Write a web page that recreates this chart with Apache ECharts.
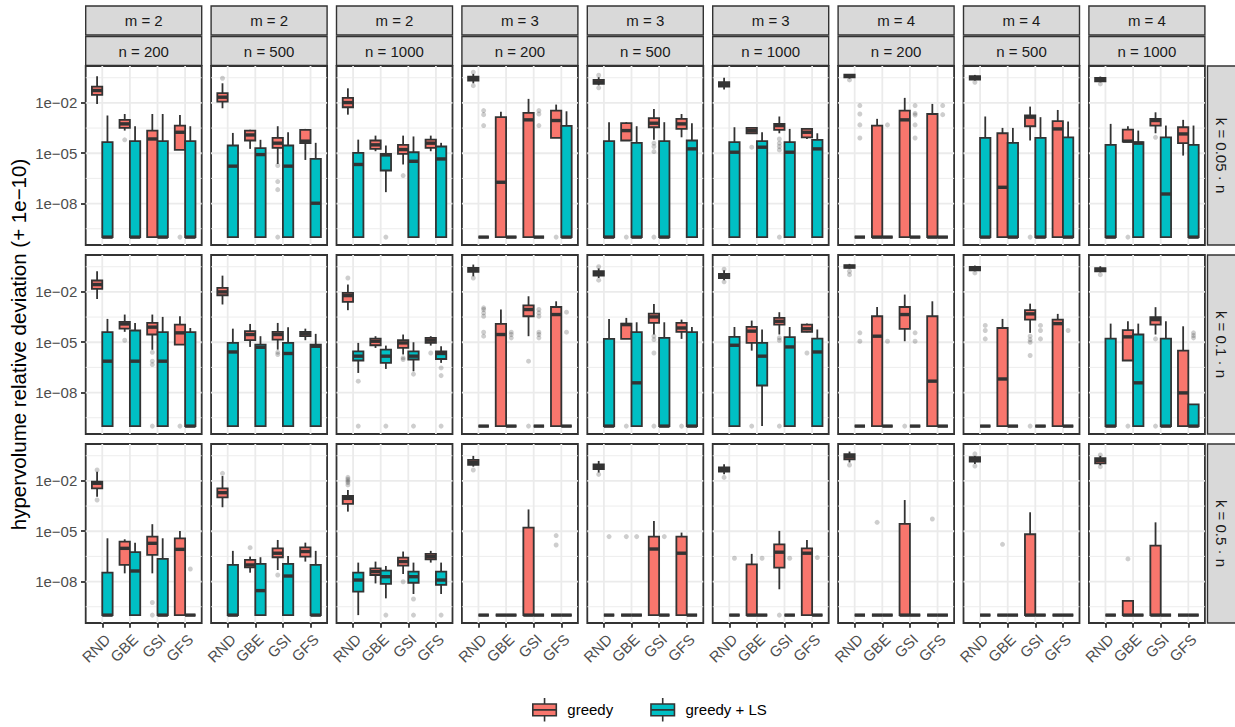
<!DOCTYPE html>
<html><head><meta charset="utf-8">
<script src="https://cdn.jsdelivr.net/npm/echarts@6/dist/echarts.min.js"></script>
<style>html,body{margin:0;padding:0;background:#fff}#c{width:1235px;height:727px}</style>
</head><body><div id="c"></div>
<script>
// ---------- data (values are log10 of deviation + 1e-10) ----------
const categories = ['RND', 'GBE', 'GSI', 'GFS'];
const mValues = [2, 2, 2, 3, 3, 3, 4, 4, 4];
const nValues = [200, 500, 1000, 200, 500, 1000, 200, 500, 1000];
const kLabels = ['k = 0.05 · n', 'k = 0.1 · n', 'k = 0.5 · n'];
const yTickValues = [-8, -5, -2];
const yTickLabels = ['1e−08', '1e−05', '1e−02'];
const yMinorValues = [-9.5, -6.5, -3.5, -0.5];
const seriesNames = ['greedy', 'greedy + LS'];
const yTitle = 'hypervolume relative deviation (+ 1e−10)';

// [min, q1, median, q3, max] per category, per panel (rows k, then m/n columns)
const greedyBoxes = [
  [[-2.06,-1.52,-1.26,-1.03,-0.41],[-3.65,-3.49,-3.25,-3.01,-2.66],[-10,-10,-4.15,-3.65,-2.66],[-4.8,-4.8,-3.75,-3.35,-2.72]],
  [[-2.32,-1.92,-1.66,-1.42,-0.83],[-4.74,-4.24,-3.91,-3.65,-3.6],[-5.64,-4.68,-4.4,-4.09,-3.39],[-5.4,-4.4,-4.28,-3.61,-3.55]],
  [[-2.7,-2.26,-1.98,-1.7,-1.13],[-4.88,-4.74,-4.5,-4.24,-3.95],[-5.67,-5.04,-4.78,-4.5,-3.95],[-4.88,-4.68,-4.4,-4.19,-3.95]],
  [[-0.83,-0.67,-0.55,-0.43,-0.27],[-10,-10,-6.73,-2.85,-2.52],[-10,-10,-3.01,-2.6,-1.76],[-4.09,-4.09,-3.05,-2.46,-2.1]],
  [[-0.95,-0.87,-0.75,-0.63,-0.47],[-4.24,-4.24,-3.65,-3.21,-3.15],[-4.2,-3.45,-3.21,-2.91,-2.36],[-4.05,-3.55,-3.25,-2.95,-2.66]],
  [[-1.2,-1.03,-0.91,-0.77,-0.5],[-3.85,-3.81,-3.65,-3.49,-3.45],[-3.81,-3.61,-3.35,-3.25,-2.81],[-4.15,-4.05,-3.75,-3.55,-3.5]],
  [[-0.55,-0.47,-0.39,-0.31,-0.28],[-10,-10,-10,-3.35,-2.95],[-10,-10,-3.01,-2.46,-1.7],[-10,-10,-10,-2.66,-2.06]],
  [[-0.67,-0.61,-0.51,-0.41,-0.33],[-10,-10,-7.03,-3.81,-3.49],[-4.24,-3.39,-2.85,-2.75,-2.22],[-10,-10,-3.55,-3.09,-2.42]],
  [[-0.77,-0.71,-0.61,-0.51,-0.43],[-4.3,-4.3,-4.28,-3.59,-3.39],[-3.81,-3.35,-3.05,-2.95,-2.56],[-5.14,-4.4,-3.85,-3.45,-3.01]],

  [[-2.42,-1.82,-1.56,-1.32,-0.77],[-4.38,-4.19,-3.91,-3.79,-3.35],[-5.45,-4.54,-4.1,-3.85,-3.35],[-5.14,-5.14,-4.44,-3.95,-3.45]],
  [[-2.75,-2.2,-2,-1.76,-1.03],[-5.28,-4.88,-4.54,-4.34,-3.91],[-5.44,-4.84,-4.54,-4.38,-3.85],[-4.88,-4.64,-4.5,-4.38,-4.19]],
  [[-3.09,-2.6,-2.22,-2.06,-1.56],[-5.34,-5.18,-4.94,-4.78,-4.64],[-5.73,-5.34,-5.04,-4.88,-4.54],[-5.2,-5.04,-4.88,-4.74,-4.64]],
  [[-1.07,-0.81,-0.67,-0.57,-0.37],[-10,-10,-4.54,-3.91,-3.05],[-4.64,-3.45,-3.05,-2.8,-2.26],[-10,-10,-3.35,-2.9,-2.56]],
  [[-1.17,-1.03,-0.91,-0.77,-0.6],[-4.8,-4.8,-3.95,-3.89,-3.55],[-4.54,-3.85,-3.49,-3.29,-2.72],[-4.8,-4.38,-4.15,-3.85,-3.65]],
  [[-1.3,-1.17,-1.03,-0.93,-0.71],[-5.5,-5.04,-4.34,-4.09,-3.71],[-4.54,-3.95,-3.75,-3.55,-3.21],[-4.4,-4.38,-4.2,-3.95,-3.89]],
  [[-0.61,-0.57,-0.49,-0.41,-0.33],[-10,-10,-4.64,-3.45,-2.9],[-4.94,-4.2,-3.35,-2.9,-2.16],[-10,-10,-7.32,-3.45,-2.56]],
  [[-0.77,-0.71,-0.61,-0.51,-0.43],[-10,-10,-7.19,-4.15,-3.61],[-4.44,-3.65,-3.31,-3.09,-2.7],[-10,-10,-3.89,-3.65,-3.31]],
  [[-0.83,-0.77,-0.67,-0.59,-0.47],[-6.09,-6.09,-4.68,-4.28,-3.75],[-4.54,-3.95,-3.65,-3.51,-2.91],[-10,-10,-8.02,-5.5,-4.05]],

  [[-2.94,-2.44,-2.14,-2.04,-1.45],[-7.51,-7.01,-6.02,-5.62,-5.48],[-7.51,-6.41,-5.72,-5.32,-4.58],[-10,-10,-6.08,-5.42,-4.98]],
  [[-3.57,-2.98,-2.7,-2.44,-1.71],[-7.47,-7.15,-7.01,-6.71,-6.51],[-7.31,-6.55,-6.31,-6.02,-5.52],[-6.81,-6.51,-6.21,-5.96,-5.68]],
  [[-3.83,-3.37,-3.04,-2.9,-2.54],[-8.11,-7.61,-7.41,-7.21,-6.81],[-7.55,-7.05,-6.81,-6.57,-6.21],[-6.87,-6.67,-6.51,-6.35,-6.17]],
  [[-1.15,-1.05,-0.89,-0.75,-0.51],[-10,-10,-10,-10,-10],[-10,-10,-10,-4.78,-3.7],[-10,-10,-10,-10,-10]],
  [[-1.5,-1.29,-1.15,-1.01,-0.81],[-10,-10,-10,-10,-10],[-10,-10,-6.06,-5.32,-4.39],[-10,-10,-6.31,-5.32,-5.08]],
  [[-1.61,-1.45,-1.31,-1.19,-1.01],[-10,-10,-10,-6.97,-6.35],[-8.46,-7.17,-6.25,-5.78,-4.98],[-10,-10,-6.31,-6.02,-5.52]],
  [[-0.9,-0.71,-0.55,-0.41,-0.25],[-10,-10,-10,-10,-10],[-10,-10,-10,-4.56,-3.14],[-10,-10,-10,-10,-10]],
  [[-0.99,-0.85,-0.71,-0.59,-0.51],[-10,-10,-10,-10,-10],[-10,-10,-10,-5.18,-3.87],[-10,-10,-10,-10,-10]],
  [[-1.07,-0.95,-0.79,-0.65,-0.51],[-10,-10,-10,-9.15,-9.15],[-10,-10,-10,-5.86,-4.47],[-10,-10,-10,-10,-10]]
];

const lsBoxes = [
  [[-10,-10,-10,-4.34,-2.75],[-10,-10,-10,-4.28,-3.39],[-10,-10,-10,-4.28,-2.66],[-10,-10,-10,-4.28,-3.39]],
  [[-10,-10,-5.77,-4.54,-3.79],[-10,-10,-5.08,-4.7,-4.2],[-10,-10,-5.77,-4.54,-3.75],[-10,-10,-7.98,-5.34,-4.38]],
  [[-10,-10,-5.67,-4.98,-4.19],[-7.32,-6.03,-5.1,-5.04,-4.54],[-10,-10,-5.48,-4.94,-4.0],[-10,-10,-5.34,-4.6,-4.38]],
  [[-10,-10,-10,-10,-10],[-10,-10,-10,-10,-10],[-10,-10,-10,-10,-10],[-10,-10,-10,-3.37,-2.5]],
  [[-10,-10,-10,-4.28,-3.15],[-10,-10,-10,-4.38,-3.39],[-10,-10,-10,-4.28,-3.15],[-10,-10,-4.74,-4.24,-3.21]],
  [[-10,-10,-4.94,-4.34,-3.45],[-10,-10,-4.64,-4.28,-3.75],[-10,-10,-4.94,-4.34,-3.55],[-10,-10,-4.74,-4.2,-3.81]],
  [[-10,-10,-10,-10,-10],[-10,-10,-10,-10,-10],[-10,-10,-10,-10,-10],[-10,-10,-10,-10,-10]],
  [[-10,-10,-10,-4.09,-2.81],[-10,-10,-10,-4.38,-3.49],[-10,-10,-10,-4.09,-2.85],[-10,-10,-10,-4.05,-3.11]],
  [[-10,-10,-10,-4.5,-3.25],[-10,-10,-4.4,-4.34,-3.65],[-10,-10,-7.43,-4.05,-3.35],[-10,-10,-10,-4.5,-3.35]],

  [[-10,-10,-6.13,-4.4,-3.61],[-10,-10,-6.13,-4.3,-3.85],[-10,-10,-6.13,-4.4,-3.49],[-10,-10,-10,-4.4,-4.15]],
  [[-10,-10,-5.58,-5.04,-4.19],[-10,-10,-5.3,-5.14,-4.64],[-10,-10,-5.67,-5.04,-4.1],[-10,-10,-5.24,-5.14,-4.5]],
  [[-6.83,-6.09,-5.83,-5.54,-5.04],[-6.59,-6.23,-5.83,-5.44,-5.2],[-6.73,-6.03,-5.83,-5.54,-5.0],[-6.23,-6.0,-5.67,-5.54,-5.24]],
  [[-10,-10,-10,-10,-10],[-10,-10,-10,-10,-10],[-10,-10,-10,-10,-10],[-10,-10,-10,-10,-10]],
  [[-10,-10,-10,-4.8,-3.61],[-10,-10,-7.42,-4.4,-3.81],[-10,-10,-10,-4.74,-3.81],[-10,-10,-10,-4.4,-4.09]],
  [[-10,-10,-5.18,-4.68,-4.09],[-10,-7.58,-5.83,-5.04,-4.24],[-10,-10,-5.28,-4.7,-4.09],[-10,-10,-5.58,-4.78,-4.24]],
  [[-10,-10,-10,-10,-10],[-10,-10,-10,-10,-10],[-10,-10,-10,-10,-10],[-10,-10,-10,-10,-10]],
  [[-10,-10,-10,-10,-10],[-10,-10,-10,-10,-10],[-10,-10,-10,-10,-10],[-10,-10,-10,-10,-10]],
  [[-10,-10,-10,-4.78,-3.89],[-10,-10,-7.42,-4.54,-3.89],[-10,-10,-10,-4.78,-3.75],[-10,-10,-10,-8.71,-8.71]],

  [[-10,-10,-10,-7.47,-5.42],[-10,-10,-7.37,-6.25,-5.68],[-10,-10,-10,-6.65,-5.42],[-10,-10,-10,-10,-10]],
  [[-10,-10,-10,-7.01,-6.17],[-10,-10,-8.54,-6.95,-6.55],[-10,-10,-7.67,-6.95,-6.47],[-10,-10,-10,-7.01,-6.17]],
  [[-10,-8.6,-7.91,-7.47,-6.87],[-9.0,-8.14,-7.71,-7.35,-7.07],[-8.74,-8.07,-7.71,-7.41,-6.87],[-8.74,-8.2,-7.91,-7.41,-6.87]],
  [[-10,-10,-10,-10,-10],[-10,-10,-10,-10,-10],[-10,-10,-10,-10,-10],[-10,-10,-10,-10,-10]],
  [[-10,-10,-10,-10,-10],[-10,-10,-10,-10,-10],[-10,-10,-10,-10,-10],[-10,-10,-10,-10,-10]],
  [[-10,-10,-10,-10,-10],[-10,-10,-10,-10,-10],[-10,-10,-10,-10,-10],[-10,-10,-10,-10,-10]],
  [[-10,-10,-10,-10,-10],[-10,-10,-10,-10,-10],[-10,-10,-10,-10,-10],[-10,-10,-10,-10,-10]],
  [[-10,-10,-10,-10,-10],[-10,-10,-10,-10,-10],[-10,-10,-10,-10,-10],[-10,-10,-10,-10,-10]],
  [[-10,-10,-10,-10,-10],[-10,-10,-10,-10,-10],[-10,-10,-10,-10,-10],[-10,-10,-10,-10,-10]]
];

const greedyOutliers = [
  [[],[-4.2],[],[-10]],
  [[-0.53],[],[-5.73,-6.69,-7.17,-10],[]],
  [[],[],[-6.33],[]],
  [[-0.17,-0.97],[],[],[-10]],
  [[-0.35,-1.1],[-10],[-4.4,-4.6,-4.9,-10],[]],
  [[],[-4.64],[-4.15,-4.4,-4.6,-4.8,-10],[]],
  [[-0.63],[],[],[]],
  [[-0.77],[],[-10],[]],
  [[-0.87],[-10],[-4.05],[]],

  [[],[-4.88],[-5.6,-6.13,-6.33,-10],[-10]],
  [[],[],[-5.6,-5.73],[]],
  [[-1.17],[],[-5.93,-6.03],[-5.64]],
  [[-1.17],[],[-6.13,-10],[]],
  [[-0.5,-1.3],[-10],[-4.64,-4.84,-5.64,-10],[-10]],
  [[-0.65,-1.4],[-10],[-4.74,-4.88,-10],[-5.64]],
  [[-0.77,-0.97],[],[-10],[]],
  [[-0.87],[],[-4.64,-4.84,-5.0,-5.79,-10],[]],
  [[-0.97],[-10],[-4.8,-10],[]],

  [[-1.35,-3.14],[],[-9.25,-10],[]],
  [[-1.55],[-5.98],[-7.61],[]],
  [[-1.79,-1.9,-2.0,-2.1,-2.24],[],[-8.01],[]],
  [[-1.35],[],[],[-5.26,-5.82]],
  [[-1.61],[-5.32],[],[]],
  [[-1.79],[],[-10],[]],
  [[-1.05],[-4.47],[],[-4.27]],
  [[-0.39,-1.11],[-5.78],[],[]],
  [[-0.45,-1.15],[-6.65],[],[]]
];

const lsOutliers = [
  [[],[],[],[]],
  [[],[],[],[]],
  [[],[-10],[],[]],
  [[-2.46,-2.7,-3.35],[],[-2.46,-2.66,-3.35],[]],
  [[],[],[],[]],
  [[],[],[],[]],
  [[-2.16,-2.66,-3.31,-4.09],[-3.31],[-2.16,-2.62,-2.72,-3.31,-4.09],[-2.16,-2.7]],
  [[],[],[],[]],
  [[],[],[],[]],

  [[],[],[],[]],
  [[],[],[],[]],
  [[-7.32,-10],[-10],[-6.9,-10],[-6.53,-6.99,-10]],
  [[-2.95,-3.05,-3.25,-3.45,-4.4,-4.64],[-4.4,-4.54,-4.74],[-3.05,-3.25,-3.45,-4.4,-4.54,-4.74],[-3.21,-4.4]],
  [[],[],[],[]],
  [[],[],[],[]],
  [[-4.44,-4.94],[-4.94],[-4.44,-4.94],[]],
  [[-4.0,-4.3,-4.8],[],[-4.0,-4.3,-4.8],[-4.3]],
  [[],[],[],[-4.44,-4.6,-4.74]],

  [[],[],[],[-7.25]],
  [[],[],[],[]],
  [[],[-10],[-9.04,-10],[-10]],
  [[],[],[],[]],
  [[-5.32],[-5.32],[-5.32],[]],
  [[-6.61],[-6.61],[-6.61],[-6.57]],
  [[],[],[],[]],
  [[],[],[],[]],
  [[],[],[],[]]
];

// ---------- layout & style ----------
const FONT = '"Liberation Sans", Arial, Helvetica, sans-serif';
const COLORS = ['#F8766D', '#00BFC4'];
const DARK = '#333333';
const PANEL_LEFT0 = 85.7, PANEL_STEP = 125.4, PANEL_W = 116, PANEL_H = 179;
const ROW_TOP = [66, 255, 444];
const Y_MIN = -10.47, Y_MAX = 0.2;
const DODGE = 0.1875, BOX_W = 0.375;

function renderGrid(params, api) {
  const cs = params.coordSys;
  const kind = api.value(2);
  const pt = api.coord([api.value(0), api.value(1)]);
  if (kind === 2) {
    return { type: 'line', shape: { x1: pt[0], y1: cs.y, x2: pt[0], y2: cs.y + cs.height },
      style: { stroke: '#EBEBEB', lineWidth: 1.8 } };
  }
  return { type: 'line', shape: { x1: cs.x, y1: pt[1], x2: cs.x + cs.width, y2: pt[1] },
    style: { stroke: '#EBEBEB', lineWidth: kind === 1 ? 0.9 : 1.8 } };
}

function renderBox(params, api) {
  const x = api.value(0);
  const lo = api.coord([x, api.value(1)]);
  const q1 = api.coord([x, api.value(2)]);
  const md = api.coord([x, api.value(3)]);
  const q3 = api.coord([x, api.value(4)]);
  const hi = api.coord([x, api.value(5)]);
  const l = api.coord([x - BOX_W / 2, api.value(3)])[0];
  const r = api.coord([x + BOX_W / 2, api.value(3)])[0];
  const cx = lo[0];
  const color = api.visual('color');
  return { type: 'group', children: [
    { type: 'line', shape: { x1: cx, y1: hi[1], x2: cx, y2: q3[1] }, style: { stroke: DARK, lineWidth: 1.8 } },
    { type: 'line', shape: { x1: cx, y1: q1[1], x2: cx, y2: lo[1] }, style: { stroke: DARK, lineWidth: 1.8 } },
    { type: 'rect', shape: { x: l, y: q3[1], width: r - l, height: q1[1] - q3[1] },
      style: { fill: color, stroke: DARK, lineWidth: 1.8 } },
    { type: 'line', shape: { x1: l, y1: md[1], x2: r, y2: md[1] }, style: { stroke: DARK, lineWidth: 3.4 } }
  ] };
}

const grids = [], xAxes = [], yAxes = [], series = [], graphics = [];

for (let p = 0; p < 27; p++) {
  const row = Math.floor(p / 9), col = p % 9;
  const left = PANEL_LEFT0 + col * PANEL_STEP, top = ROW_TOP[row];
  grids.push({ left: left, top: top, width: PANEL_W, height: PANEL_H, show: true,
    backgroundColor: '#ffffff', borderColor: DARK, borderWidth: 1.8,
    containLabel: false, outerBoundsMode: 'none' });

  xAxes.push({ gridIndex: p, type: 'value', min: 0.4, max: 4.6,
    axisLine: { show: false, onZero: false }, splitLine: { show: false },
    axisTick: { show: row === 2, customValues: [1, 2, 3, 4], length: 4.7, lineStyle: { color: DARK, width: 1.8 } },
    axisLabel: { show: row === 2, customValues: [1, 2, 3, 4], rotate: 45, margin: 8.4,
      align: 'right', verticalAlign: 'top',
      formatter: function (v) { return categories[Math.round(v) - 1]; },
      color: '#4D4D4D', fontSize: 15, fontFamily: FONT } });

  const yAx = { gridIndex: p, type: 'value', min: Y_MIN, max: Y_MAX,
    axisLine: { show: false, onZero: false }, splitLine: { show: false },
    axisTick: { show: col === 0, customValues: yTickValues, length: 4.7, lineStyle: { color: DARK, width: 1.8 } },
    axisLabel: { show: col === 0, customValues: yTickValues, margin: 8.4,
      formatter: function (v) { return yTickLabels[yTickValues.indexOf(Math.round(v))]; },
      color: '#4D4D4D', fontSize: 15, fontFamily: FONT } };
  if (p === 9) {
    yAx.name = yTitle;
    yAx.nameLocation = 'middle';
    yAx.nameGap = 57;
    yAx.nameRotate = 90;
    yAx.nameTextStyle = { fontSize: 20.5, color: '#000000', fontFamily: FONT };
  }
  yAxes.push(yAx);

  // panel gridlines
  const gl = [];
  yMinorValues.forEach(function (v) { gl.push([1, v, 1]); });
  yTickValues.forEach(function (v) { gl.push([1, v, 0]); });
  [1, 2, 3, 4].forEach(function (v) { gl.push([v, -5, 2]); });
  series.push({ type: 'custom', xAxisIndex: p, yAxisIndex: p, silent: true, z: 1,
    encode: { x: 0, y: 1 }, data: gl, renderItem: renderGrid });

  // outliers
  [greedyOutliers, lsOutliers].forEach(function (outs, s) {
    const pts = [];
    outs[p].forEach(function (list, ci) {
      list.forEach(function (v) { pts.push([ci + 1 + (s ? DODGE : -DODGE), v]); });
    });
    series.push({ type: 'scatter', xAxisIndex: p, yAxisIndex: p, silent: true, z: 2,
      symbol: 'circle', symbolSize: 5, itemStyle: { color: 'rgba(0,0,0,0.24)' }, data: pts });
  });

  // boxes
  [greedyBoxes, lsBoxes].forEach(function (boxes, s) {
    const data = boxes[p].map(function (b, ci) { return [ci + 1 + (s ? DODGE : -DODGE)].concat(b); });
    series.push({ type: 'custom', name: seriesNames[s], xAxisIndex: p, yAxisIndex: p, z: 3,
      itemStyle: { color: COLORS[s] }, encode: { x: 0, y: [1, 2, 3, 4, 5] },
      data: data, renderItem: renderBox });
  });
}

// strips
for (let c = 0; c < 9; c++) {
  const x = PANEL_LEFT0 + c * PANEL_STEP;
  [[6, 'm = ' + mValues[c]], [36.5, 'n = ' + nValues[c]]].forEach(function (s) {
    graphics.push({ type: 'rect', shape: { x: x, y: s[0], width: PANEL_W, height: 29 },
      style: { fill: '#D9D9D9', stroke: DARK, lineWidth: 1.4 } });
    graphics.push({ type: 'text', x: x + PANEL_W / 2, y: s[0] + 14.5,
      style: { text: s[1], fill: '#1A1A1A', font: '15px ' + FONT,
        align: 'center', verticalAlign: 'middle', textAlign: 'center', textVerticalAlign: 'middle' } });
  });
}
for (let r = 0; r < 3; r++) {
  graphics.push({ type: 'rect', shape: { x: 1207.5, y: ROW_TOP[r], width: 30, height: PANEL_H },
    style: { fill: '#D9D9D9', stroke: DARK, lineWidth: 1.4 } });
  graphics.push({ type: 'text', x: 1221.5, y: ROW_TOP[r] + PANEL_H / 2, rotation: -Math.PI / 2,
    style: { text: kLabels[r], fill: '#1A1A1A', font: '15px ' + FONT,
      align: 'center', verticalAlign: 'middle', textAlign: 'center', textVerticalAlign: 'middle' } });
}

const LEGEND_ICON = 'path://M12,2 L12,7 M2,7 L22,7 L22,17 L2,17 Z M2,12 L22,12 M12,17 L12,22';

const chart = echarts.init(document.getElementById('c'), null, { renderer: 'svg' });
chart.setOption({
  animation: false,
  backgroundColor: '#ffffff',
  grid: grids,
  xAxis: xAxes,
  yAxis: yAxes,
  series: series,
  graphic: { elements: graphics },
  legend: {
    left: 532, top: 697.3, padding: 0, itemWidth: 23.5, itemHeight: 23.5, itemGap: 37,
    selectedMode: false,
    textStyle: { fontSize: 15, color: '#000000', fontFamily: FONT, padding: [0, 0, 0, 6] },
    data: seriesNames.map(function (n, i) {
      return { name: n, icon: LEGEND_ICON,
        itemStyle: { color: COLORS[i], borderColor: DARK, borderWidth: 1.6 } };
    })
  }
});
</script>
</body></html>
